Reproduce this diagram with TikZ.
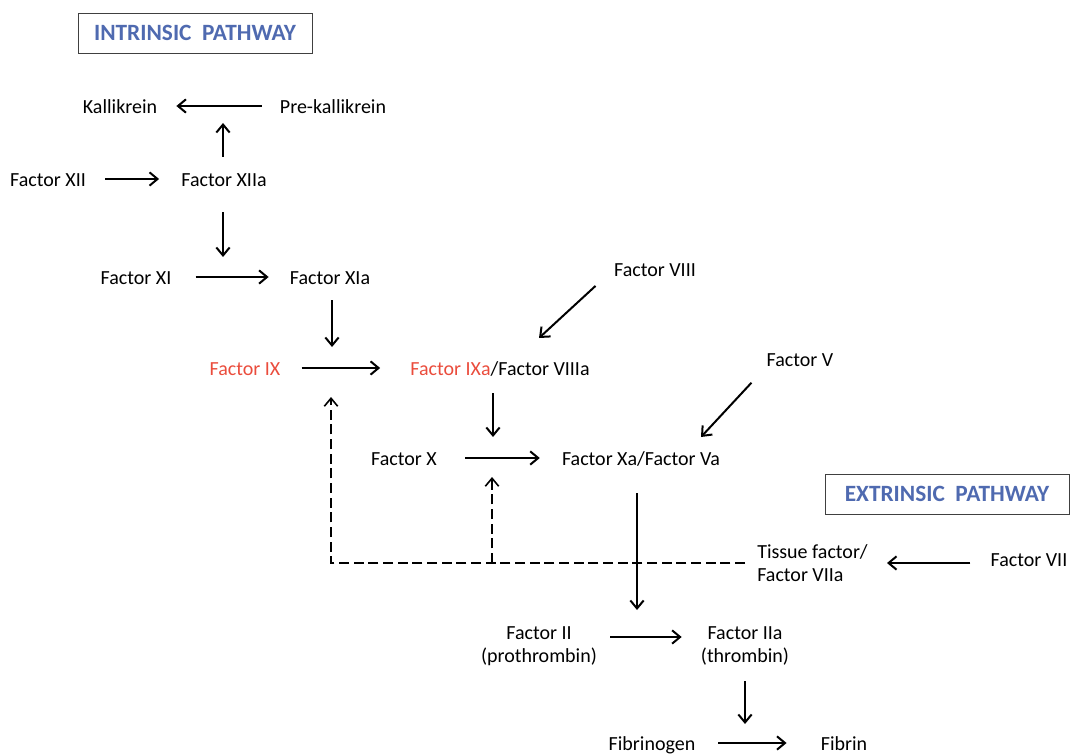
\documentclass[tikz,border=0pt]{standalone}
\usepackage{fontspec}
\setmainfont{Carlito}
\usetikzlibrary{arrows.meta}
\definecolor{pathblue}{RGB}{79,106,176}
\definecolor{facred}{RGB}{234,76,60}

\begin{document}
\begin{tikzpicture}[x=0.75pt,y=-0.75pt,
    fac/.style={inner sep=0pt,text height=11pt,text depth=0pt,font=\fontsize{15}{17.25}\selectfont},
    fac2/.style={inner sep=0pt,font=\fontsize{15}{17.25}\selectfont},
    pathbox/.style={draw=black!75,line width=.7pt,minimum width=#1,minimum height=30pt,inner sep=0pt,
      text=pathblue,font=\bfseries\fontsize{17.5}{20}\selectfont},
    conn/.style={-{Straight Barb[length=6pt,width=10pt]},line width=1.5pt},
    feed/.style={conn,line width=1.2pt,dash pattern=on 7.5pt off 3.5pt}]
  \useasboundingbox (0,0) rectangle (1071,756);

  \node[pathbox=175.5pt] (intr) at (195,33) {INTRINSIC\ \ PATHWAY};
  \node[pathbox=183pt] (extr) at (947,494) {EXTRINSIC\ \ PATHWAY};

  \node[fac] (kall) at (120,106) {Kallikrein};
  \node[fac] (prekall) at (333,106) {Pre-kallikrein};
  \node[fac] (f12) at (48,179) {Factor XII};
  \node[fac] (f12a) at (224,179) {Factor XIIa};
  \node[fac] (f11) at (136,277) {Factor XI};
  \node[fac] (f11a) at (330,277) {Factor XIa};
  \node[fac] (f8) at (655,269) {Factor VIII};
  \node[fac,text=facred] (f9) at (245,368) {Factor IX};
  \node[fac] (f9a) at (500,368) {{\color{facred}Factor IXa}/Factor VIIIa};
  \node[fac] (f5) at (800,359) {Factor V};
  \node[fac] (f10) at (404,458) {Factor X};
  \node[fac] (f10a) at (641,458) {Factor Xa/Factor Va};
  \node[fac2,align=left,anchor=west] (tf) at (757,563) {Tissue factor/\\Factor VIIa};
  \node[fac] (f7) at (1029,559) {Factor VII};
  \node[fac2,align=center] (f2) at (539,646) {Factor II\\(prothrombin)};
  \node[fac2,align=center] (f2a) at (745,646) {Factor IIa\\(thrombin)};
  \node[fac] (fbg) at (652,743) {Fibrinogen};
  \node[fac] (fbn) at (844,743) {Fibrin};

  \coordinate (kp) at (223,123);
  \coordinate (c11) at (223,257);
  \coordinate (c9) at (332,347);
  \coordinate (c8) at (539,338);
  \coordinate (c10) at (493,437);
  \coordinate (c5) at (701,437);
  \coordinate (d9) at (331,397);
  \coordinate (d10) at (492,477);
  \coordinate (c2) at (637,610);
  \coordinate (c13) at (745,724);

  \draw[conn,shorten <=13.5pt,shorten >=14.25pt] (prekall.west) -- (kall.east);
  \draw[conn,shorten <=11pt] (kp |- f12a.north) -- (kp);
  \draw[conn,shorten <=14.25pt,shorten >=16.5pt] (f12.east) -- (f12a.west);
  \draw[conn,shorten <=19.3pt] (c11 |- f12a.south) -- (c11);
  \draw[conn,shorten <=18pt,shorten >=15.75pt] (f11.east) -- (f11a.west);
  \draw[conn,shorten <=11.8pt] (c9 |- f11a.south) -- (c9);
  \draw[conn,shorten <=15.75pt,shorten >=22.5pt] (f9.east) -- (f9a.west);
  \draw[conn,shorten <=18.75pt] (f8.west) -- (c8);
  \draw[conn,shorten <=13.3pt] (c10 |- f9a.south) -- (c10);
  \draw[conn,shorten <=16.5pt] (f5.south west) -- (c5);
  \draw[conn,shorten <=21pt,shorten >=16.5pt] (f10.east) -- (f10a.west);
  \draw[conn,shorten <=20.8pt] (c2 |- f10a.south) -- (c2);
  \draw[conn,shorten <=15pt,shorten >=14.25pt] (f7.west |- tf.east) -- (tf.east);
  \draw[conn,shorten <=9.75pt,shorten >=14.25pt] ([yshift=6.75pt]f2.east) -- ([yshift=6.75pt]f2a.west);
  \draw[conn,shorten <=11.6pt] (c13 |- f2a.south) -- (c13);
  \draw[conn,shorten <=16.9pt,shorten >=25.5pt] (fbg.east) -- (fbn.west);

  \draw[feed,shorten <=9pt] (tf.west) -| (d9);
  \draw[feed] (d10 |- tf.west) -- (d10);
\end{tikzpicture}
\end{document}
